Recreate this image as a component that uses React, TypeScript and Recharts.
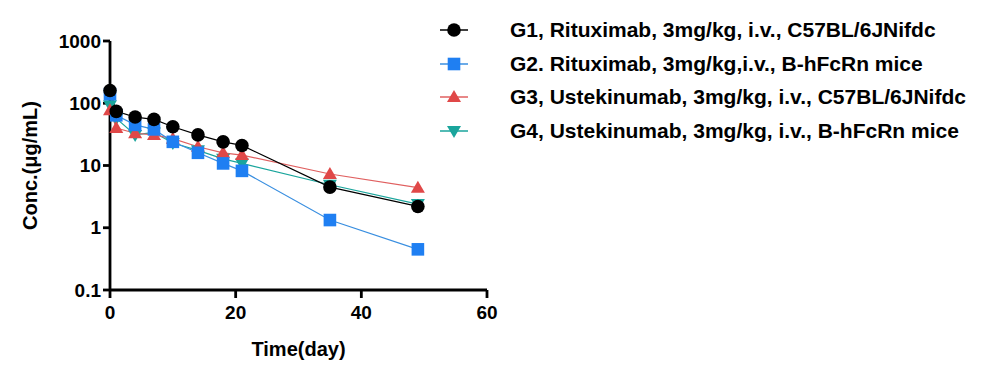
import React from 'react';
import { LineChart, Line, XAxis, YAxis } from 'recharts';

const days = [0, 1, 4, 7, 10, 14, 18, 21, 35, 49];
const g1 = [160, 74, 60, 55, 42, 31, 24, 21, 4.5, 2.2];
const g2 = [140, 64, 45, 38, 24, 16, 10.8, 8.2, 1.33, 0.45];
const g3 = [77, 40, 33, 31, 27, 20, 16, 14.7, 7.3, 4.4];
const g4 = [93, 57, 31, 34, 23, 17.5, 12.8, 10.8, 4.9, 2.4];
const xTicks = [0, 20, 40, 60];
const yTicks = [0.1, 1, 10, 100, 1000];

const labels = [
  'G1, Rituximab, 3mg/kg, i.v., C57BL/6JNifdc',
  'G2. Rituximab, 3mg/kg,i.v., B-hFcRn mice',
  'G3, Ustekinumab, 3mg/kg, i.v., C57BL/6JNifdc',
  'G4, Ustekinumab, 3mg/kg, i.v., B-hFcRn mice',
];

type Shape = 'circle' | 'square' | 'triangle' | 'down';

const series = [
  { key: 'g1', name: labels[0], values: g1, marker: '#000000', line: '#000000', shape: 'circle' as Shape },
  { key: 'g2', name: labels[1], values: g2, marker: '#1F7FF2', line: '#3A8FE0', shape: 'square' as Shape },
  { key: 'g3', name: labels[2], values: g3, marker: '#E04848', line: '#E06060', shape: 'triangle' as Shape },
  { key: 'g4', name: labels[3], values: g4, marker: '#1AA59C', line: '#1AA59C', shape: 'down' as Shape },
];

const data = days.map((d, i) => ({
  day: d,
  g1: g1[i],
  g2: g2[i],
  g3: g3[i],
  g4: g4[i],
}));

const Marker = ({ shape, cx, cy, color }: { shape: Shape; cx: number; cy: number; color: string }) => {
  if (shape === 'circle') return <circle cx={cx} cy={cy} r={6.8} fill={color} />;
  if (shape === 'square') return <rect x={cx - 6.3} y={cy - 6.3} width={12.6} height={12.6} fill={color} />;
  if (shape === 'triangle')
    return <polygon points={`${cx},${cy - 7} ${cx + 7},${cy + 5} ${cx - 7},${cy + 5}`} fill={color} />;
  return <polygon points={`${cx},${cy + 7} ${cx + 7},${cy - 5} ${cx - 7},${cy - 5}`} fill={color} />;
};

const makeDot = (shape: Shape, color: string) => (props: any) => {
  const { cx, cy, index } = props;
  if (cx == null || cy == null) return <g key={`${shape}-${index}`} />;
  return (
    <g key={`${shape}-${index}`}>
      <Marker shape={shape} cx={cx} cy={cy} color={color} />
    </g>
  );
};

const font = 'Arial, "Liberation Sans", Helvetica, sans-serif';

const fmtY = (v: number) => (v < 1 ? '0.1' : String(v));

export default function App() {
  const drawOrder = [...series].reverse();
  return (
    <div style={{ position: 'relative', width: 975, height: 370, fontFamily: font }}>
      <LineChart width={975} height={370} data={data} margin={{ top: 33, right: 496, bottom: 0, left: 0 }}>
        <XAxis
          dataKey="day"
          type="number"
          domain={[0, 60]}
          ticks={xTicks}
          stroke="#000"
          strokeWidth={2.8}
          tickSize={8}
          tickMargin={8}
          height={88}
          tick={{ fill: '#000', fontSize: 19, fontWeight: 'bold', fontFamily: font }}
          label={{ value: 'Time(day)', position: 'insideTop', offset: 52, fill: '#000', fontSize: 20, fontWeight: 'bold', fontFamily: font }}
        />
        <YAxis
          type="number"
          scale="log"
          domain={[0.1, 1000]}
          ticks={yTicks}
          allowDataOverflow
          stroke="#000"
          strokeWidth={2.8}
          tickSize={7}
          width={102}
          tickFormatter={fmtY}
          tick={{ fill: '#000', fontSize: 19, fontWeight: 'bold', fontFamily: font }}
          label={{ value: 'Conc.(μg/mL)', angle: -90, position: 'insideLeft', offset: 22, fill: '#000', fontSize: 20, fontWeight: 'bold', fontFamily: font, style: { textAnchor: 'middle' } }}
        />
        {drawOrder.map((s) => (
          <Line
            key={s.key}
            dataKey={s.key}
            name={s.name}
            stroke={s.line}
            strokeWidth={1.2}
            type="linear"
            dot={makeDot(s.shape, s.marker)}
            activeDot={false}
            isAnimationActive={false}
          />
        ))}
      </LineChart>
      <div style={{ position: 'absolute', left: 430, top: 5 }}>
        {series.map((s) => (
          <div key={s.key} style={{ display: 'flex', alignItems: 'center', height: 33.7 }}>
            <svg width={32} height={20} style={{ marginRight: 40 }}>
              <line x1={2} y1={10} x2={30} y2={10} stroke={s.line} strokeWidth={1.5} />
              <Marker shape={s.shape} cx={16} cy={10} color={s.marker} />
            </svg>
            <span style={{ fontSize: 21, fontWeight: 'bold', color: '#000', whiteSpace: 'nowrap' }}>{s.name}</span>
          </div>
        ))}
      </div>
    </div>
  );
}
